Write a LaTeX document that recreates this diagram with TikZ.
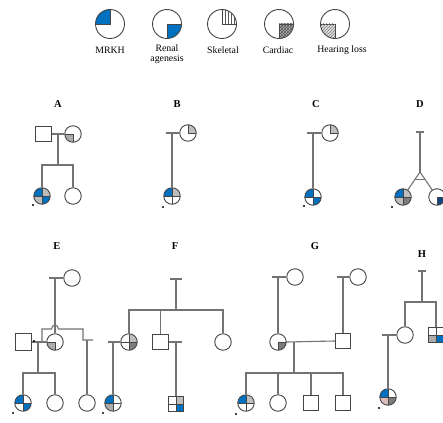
\documentclass[tikz,border=0pt]{standalone}
\usepackage{fontspec}
\setmainfont{Liberation Serif}
\usetikzlibrary{patterns,calc}
\definecolor{mblue}{RGB}{0,112,192}
\definecolor{dblue}{RGB}{20,70,130}
\definecolor{lgray}{RGB}{190,190,190}
\definecolor{mgray}{RGB}{172,172,172}
\definecolor{dgray}{RGB}{125,125,125}
\definecolor{pinkg}{RGB}{218,188,188}
\definecolor{olc}{RGB}{70,70,70}
\definecolor{lnc}{RGB}{115,115,115}
\begin{document}
\begin{tikzpicture}[x=1pt,y=-1pt,
  ind/.style={draw=olc, line width=0.9pt, inner sep=0pt, fill=white},
  fem/.style={ind, circle, minimum size=16.5pt},
  mal/.style={ind, rectangle, minimum size=15.5pt},
  lc/.style={ind, circle, minimum size=29pt},
  qd/.style n args={4}{path picture={
     \fill[#1] (path picture bounding box.center) rectangle (path picture bounding box.north west);
     \fill[#2] (path picture bounding box.center) rectangle (path picture bounding box.north east);
     \fill[#3] (path picture bounding box.center) rectangle (path picture bounding box.south west);
     \fill[#4] (path picture bounding box.center) rectangle (path picture bounding box.south east);
     \draw[olc, line width=0.55pt] (path picture bounding box.north) -- (path picture bounding box.south)
        (path picture bounding box.west) -- (path picture bounding box.east);}},
  sq/.style 2 args={path picture={
     \filldraw[fill=#2, draw=olc, line width=0.55pt] (path picture bounding box.center) rectangle (path picture bounding box.#1);}},
  lg/.style 2 args={path picture={
     \filldraw[#2, draw=olc, line width=0.7pt] (path picture bounding box.center) rectangle (path picture bounding box.#1);}},
  ln/.style={draw=lnc, line width=1.1pt},
  lab/.style={font=\fontsize{9.8}{11}\selectfont, align=center, inner sep=0pt},
  hd/.style={font=\fontsize{10.5}{12}\selectfont\bfseries, inner sep=0pt},
  pdot/.style={circle, fill=black, inner sep=0pt, minimum size=2.4pt}
]
\useasboundingbox (0,0) rectangle (443,422);
\fill[white] (0,0) rectangle (443,422);
\clip (0,0) rectangle (443,422);

% ---------- legend ----------
\node[lc, lg={north west}{fill=mblue}] (L1) at (110,24) {};
\node[lc, lg={south east}{fill=mblue}] (L2) at (167,24) {};
\node[lc, lg={north east}{pattern=vertical lines, pattern color=black!65}] (L3) at (222,24) {};
\node[lc, lg={south east}{fill=gray!55, postaction={pattern=crosshatch, pattern color=black!70}}] (L4) at (279,24) {};
\node[lc, lg={south west}{fill=gray!25, postaction={pattern=north east lines, pattern color=black!50}}] (L5) at (335,24) {};
\node[lab] (T1) at (110,50) {MRKH};
\node[lab] (T2) at (167,54) {Renal\\[-1.5pt]agenesis};
\node[lab] (T3) at (223,50) {Skeletal};
\node[lab] (T4) at (278,50) {Cardiac};
\node[lab] (T5) at (342,50) {Hearing loss};

% ---------- headers ----------
\node[hd] (hA) at (58,104) {A};
\node[hd] (hB) at (177,104) {B};
\node[hd] (hC) at (316,104) {C};
\node[hd] (hD) at (420,104) {D};
\node[hd] (hE) at (57,246) {E};
\node[hd] (hF) at (175,246) {F};
\node[hd] (hG) at (315,246) {G};
\node[hd] (hH) at (422,254) {H};

% ---------- A ----------
\node[mal] (A1) at (43.5,134) {};
\node[fem, sq={south west}{mgray}] (A2) at (73,134) {};
\draw[ln] (A1.east) -- (A2.west);
\coordinate (Am) at (58,134);
\coordinate (As) at (58,165);
\draw[ln] (Am) -- (As);
\node[fem, qd={mblue}{lgray}{lgray}{mblue}] (A3) at (42,196) {};
\node[fem] (A4) at (73,196) {};
\draw[ln] (A3.north) |- (As) -| (A4.north);
\node[pdot] (pA) at (33,205) {};

% ---------- B ----------
\node[fem, sq={north east}{lgray}] (B1) at (188,133) {};
\coordinate (Bs) at (166,133);
\coordinate (Bv) at (172,133);
\draw[ln] (Bs) -- (B1.west);
\node[fem, qd={mblue}{lgray}{white}{white}] (B2) at (172,196) {};
\draw[ln] (Bv) -- (B2.north);
\node[pdot] (pB) at (163,207) {};

% ---------- C ----------
\node[fem, sq={north east}{lgray}] (C1) at (330,133) {};
\coordinate (Cs) at (307,133);
\coordinate (Cv) at (313,133);
\draw[ln] (Cs) -- (C1.west);
\node[fem, qd={mblue}{white}{white}{mblue}] (C2) at (313,197) {};
\draw[ln] (Cv) -- (C2.north);
\node[pdot] (pC) at (304,206) {};

% ---------- D ----------
\coordinate (Dt1) at (416,132);
\coordinate (Dt2) at (424,132);
\coordinate (Dv) at (420,132);
\coordinate (Dap) at (420,172);
\draw[ln] (Dt1) -- (Dt2);
\draw[ln] (Dv) -- (Dap);
\node[fem, qd={mblue}{lgray}{lgray}{dgray}] (D1) at (403,197) {};
\node[fem, sq={south east}{dblue}] (D2) at (437,197) {};
\draw[ln] (Dap) -- (D1);
\draw[ln] (Dap) -- (D2);
\draw[ln] ($(Dap)!0.3!(D1.center)$) -- ($(Dap)!0.3!(D2.center)$);
\node[pdot] (pD) at (392,207) {};

% ---------- E ----------
\node[fem] (E1) at (72,278) {};
\coordinate (Es) at (49,278);
\coordinate (Ev) at (55,278);
\draw[ln] (Es) -- (E1.west);
\node[fem, sq={south west}{mgray}] (E2) at (55,342) {};
\draw[ln] (Ev) -- (E2.north);
\node[mal, minimum size=16.5pt] (E3) at (23.5,342) {};
\draw[ln] (E3.east) -- (E2.west);
\coordinate (Ec1) at (42,342);
\coordinate (Ec2) at (42,329);
\coordinate (Eh1) at (51.5,329);
\coordinate (Eh2) at (58.5,329);
\coordinate (Ec3) at (83,329);
\coordinate (Ec4) at (83,340);
\coordinate (Ec5) at (93,340);
\draw[ln] (Ec1) -- (Ec2) -- (Eh1) .. controls (51.5,324) and (58.5,324) .. (Eh2) -- (Ec3) -- (Ec4) -- (Ec5);
\node[pdot] (pE0) at (34,341) {};
\coordinate (Em) at (38,342);
\coordinate (Es2) at (38,373);
\draw[ln] (Em) -- (Es2);
\node[fem, qd={mblue}{white}{white}{mblue}] (E4) at (23,403) {};
\node[fem] (E5) at (55,403) {};
\draw[ln] (E4.north) |- (Es2) -| (E5.north);
\coordinate (Ev2) at (87,340);
\node[fem] (E6) at (87,403) {};
\draw[ln] (Ev2) -- (E6.north);
\node[pdot] (pE) at (13,413) {};

% ---------- F ----------
\coordinate (Ft1) at (170,279);
\coordinate (Ft2) at (182,279);
\coordinate (Fv) at (176,279);
\coordinate (Fs) at (176,310);
\draw[ln] (Ft1) -- (Ft2);
\draw[ln] (Fv) -- (Fs);
\node[fem, qd={white}{lgray}{white}{dgray}] (F1) at (129,342) {};
\node[mal] (F2) at (160.5,342) {};
\node[fem] (F3) at (223,342) {};
\draw[ln] (F1.north) |- (Fs) -| (F3.north);
\draw[ln] (F2.north) -- (F2.north |- Fs);
\coordinate (Fa) at (108,342);
\coordinate (Fb) at (113,342);
\draw[ln] (Fa) -- (F1.west);
\node[fem, qd={mblue}{white}{mgray}{white}] (F4) at (113,403) {};
\draw[ln] (Fb) -- (F4.north);
\coordinate (Fc) at (182,342);
\coordinate (Fd) at (176,342);
\draw[ln] (F2.east) -- (Fc);
\node[mal, qd={white}{lgray}{white}{mblue}] (F5) at (176,404) {};
\draw[ln] (Fd) -- (F5.north);
\node[pdot] (pF) at (103,413) {};

% ---------- G ----------
\node[fem] (G1) at (295,277) {};
\coordinate (Ga) at (272,277);
\coordinate (Gb) at (278,277);
\draw[ln] (Ga) -- (G1.west);
\node[fem] (G2) at (358,277) {};
\coordinate (Gc) at (337,277);
\coordinate (Gd) at (343,277);
\draw[ln] (Gc) -- (G2.west);
\node[fem, sq={south east}{dgray}] (G3) at (278,342) {};
\node[mal] (G4) at (343,341) {};
\draw[ln] (Gb) -- (G3.north);
\draw[ln] (Gd) -- (G4.north);
\draw[ln] (G3.east) -- (G4.west);
\coordinate (Gm) at (294,342);
\coordinate (Gs) at (294,373);
\draw[ln] (Gm) -- (Gs);
\node[fem, qd={mblue}{lgray}{white}{white}] (G5) at (246,403) {};
\node[fem] (G6) at (278,403) {};
\node[mal] (G7) at (311,403) {};
\node[mal] (G8) at (343,403) {};
\draw[ln] (G5.north) |- (Gs) -| (G8.north);
\draw[ln] (G6.north) -- (G6.north |- Gs);
\draw[ln] (G7.north) -- (G7.north |- Gs);
\node[pdot] (pG) at (236,414) {};

% ---------- H ----------
\coordinate (Ht1) at (418,271);
\coordinate (Ht2) at (426,271);
\coordinate (Hv) at (422,271);
\coordinate (Hs) at (422,302);
\draw[ln] (Ht1) -- (Ht2);
\draw[ln] (Hv) -- (Hs);
\node[fem] (H1) at (405,335) {};
\node[mal, qd={white}{white}{mgray}{mblue}] (H2) at (436,335) {};
\draw[ln] (H1.north) |- (Hs) -| (H2.north);
\coordinate (Ha) at (382,335);
\coordinate (Hb) at (388,335);
\draw[ln] (Ha) -- (H1.west);
\node[fem, qd={mblue}{white}{pinkg}{dgray}] (H3) at (388,397) {};
\draw[ln] (Hb) -- (H3.north);
\node[pdot] (pH) at (379,408) {};
\end{tikzpicture}
\end{document}
